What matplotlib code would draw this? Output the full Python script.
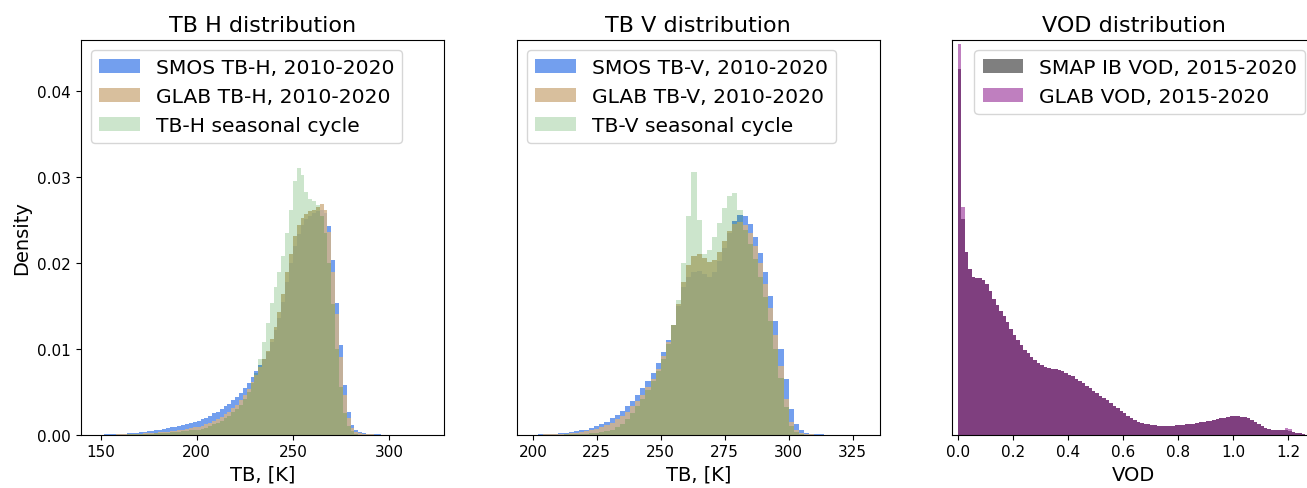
import numpy as np
import matplotlib
matplotlib.use("Agg")
from matplotlib import pyplot

# ---- TB H (bins of 2 K, 150-300 K) ----
tbh_edges = np.arange(150, 301, 2)
smos_tbh = [0.00002, 0.00003, 0.00004, 0.00005, 0.00007, 0.00009, 0.00012, 0.00015, 0.00018, 0.00022,
            0.00027, 0.00032, 0.00038, 0.00045, 0.00052, 0.00060, 0.00068, 0.00077, 0.00086, 0.00095,
            0.00105, 0.00115, 0.00125, 0.00137, 0.00150, 0.0016, 0.0018, 0.0020, 0.0022, 0.0025,
            0.0027, 0.0030, 0.0033, 0.0036, 0.0040, 0.0044, 0.0049, 0.0054, 0.0060, 0.0067,
            0.0074, 0.0081, 0.0088, 0.0096, 0.0108, 0.0122, 0.0136, 0.0155, 0.0178, 0.0200,
            0.0220, 0.0234, 0.0244, 0.0251, 0.0255, 0.0258, 0.0260, 0.0262, 0.0258, 0.0243,
            0.0203, 0.0153, 0.0104, 0.0058, 0.0027, 0.0011, 0.0005, 0.0003, 0.0002, 0.00012,
            0.00008, 0.00005, 0.00003, 0.00002, 0.00001]
glab_tbh = [0.00001, 0.00001, 0.00002, 0.00002, 0.00003, 0.00004, 0.00005, 0.00006, 0.00008, 0.00010,
            0.00012, 0.00014, 0.00017, 0.00020, 0.00023, 0.00027, 0.00031, 0.00036, 0.00041, 0.00047,
            0.00053, 0.00060, 0.00068, 0.00077, 0.00086, 0.0009, 0.0010, 0.0012, 0.0014, 0.0016,
            0.0018, 0.0021, 0.0024, 0.0027, 0.0031, 0.0035, 0.0040, 0.0046, 0.0053, 0.0061,
            0.0070, 0.0079, 0.0088, 0.0098, 0.0111, 0.0126, 0.0143, 0.0164, 0.0189, 0.0211,
            0.0231, 0.0244, 0.0252, 0.0257, 0.0260, 0.0262, 0.0265, 0.0269, 0.0262, 0.0236,
            0.0190, 0.0140, 0.0090, 0.0046, 0.0020, 0.0008, 0.0003, 0.00015, 0.0001, 0.00006,
            0.00004, 0.00002, 0.00001, 0.00001, 0.0]
seas_tbh = [0.0, 0.0, 0.0, 0.0, 0.00001, 0.00001, 0.00002, 0.00003, 0.00004, 0.00005,
            0.00006, 0.00008, 0.00010, 0.00012, 0.00014, 0.00016, 0.00019, 0.00022, 0.00026, 0.00030,
            0.00034, 0.00038, 0.00043, 0.00049, 0.00055, 0.0006, 0.0007, 0.0008, 0.0010, 0.0012,
            0.0014, 0.0016, 0.0019, 0.0022, 0.0026, 0.0030, 0.0035, 0.0042, 0.0050, 0.0060,
            0.0072, 0.0088, 0.0108, 0.0130, 0.0153, 0.0172, 0.0190, 0.0208, 0.0235, 0.0262,
            0.0295, 0.0311, 0.0302, 0.0283, 0.0275, 0.0272, 0.0267, 0.0255, 0.0235, 0.0200,
            0.0152, 0.0100, 0.0055, 0.0025, 0.0010, 0.0004, 0.0001, 0.0, 0.0, 0.0,
            0.0, 0.0, 0.0, 0.0, 0.0]

# ---- TB V (bins of 2 K, 200-320 K) ----
tbv_edges = np.arange(200, 321, 2)
smos_tbv = [0.00002, 0.00003, 0.00004, 0.00006, 0.0001, 0.00015, 0.0002, 0.0003, 0.0004, 0.0005,
            0.0006, 0.0008, 0.0010, 0.0012, 0.0015, 0.0019, 0.0023, 0.0028, 0.0033, 0.0039,
            0.0046, 0.0054, 0.0063, 0.0072, 0.0083, 0.0096, 0.0110, 0.0128, 0.0150, 0.0172,
            0.0184, 0.0190, 0.0191, 0.0187, 0.0184, 0.0190, 0.0202, 0.0218, 0.0235, 0.0249,
            0.0256, 0.0255, 0.0245, 0.0230, 0.0212, 0.0190, 0.0162, 0.0132, 0.0100, 0.0065,
            0.0030, 0.0012, 0.0005, 0.0002, 0.0001, 0.00005, 0.00003, 0.00002, 0.00001, 0.00001]
glab_tbv = [0.00001, 0.00002, 0.00003, 0.00004, 0.00006, 0.0001, 0.00013, 0.0002, 0.00025, 0.0003,
            0.0004, 0.0005, 0.0007, 0.0009, 0.0011, 0.0014, 0.0018, 0.0022, 0.0027, 0.0033,
            0.0039, 0.0046, 0.0055, 0.0065, 0.0077, 0.0092, 0.0108, 0.0128, 0.0152, 0.0178,
            0.0198, 0.0208, 0.0210, 0.0206, 0.0201, 0.0204, 0.0213, 0.0225, 0.0237, 0.0245,
            0.0248, 0.0244, 0.0235, 0.0220, 0.0200, 0.0176, 0.0148, 0.0116, 0.0080, 0.0042,
            0.0015, 0.0005, 0.0002, 0.0001, 0.00005, 0.0, 0.0, 0.0, 0.0, 0.0]
seas_tbv = [0.0, 0.0, 0.0, 0.0, 0.00001, 0.00002, 0.00003, 0.00005, 0.00007, 0.0001,
            0.00013, 0.00017, 0.00022, 0.0003, 0.0004, 0.0006, 0.0009, 0.0013, 0.0018, 0.0025,
            0.0033, 0.0042, 0.0052, 0.0063, 0.0074, 0.0088, 0.0106, 0.0128, 0.0157, 0.0200,
            0.0255, 0.0306, 0.0250, 0.0210, 0.0215, 0.0230, 0.0247, 0.0264, 0.0278, 0.0282,
            0.0262, 0.0238, 0.0222, 0.0205, 0.0184, 0.0160, 0.0132, 0.0100, 0.0066, 0.0032,
            0.0010, 0.0003, 0.0001, 0.0, 0.0, 0.0, 0.0, 0.0, 0.0, 0.0]

# ---- VOD (bins of 0.0125) ----
vod_edges = np.linspace(0, 1.2625, 102)
smap_vod = [0.0426, 0.0251, 0.0213, 0.0193, 0.0184, 0.0183, 0.0182, 0.0180, 0.0175, 0.0167,
            0.0158, 0.0151, 0.0144, 0.0138, 0.0131, 0.0123, 0.0116, 0.0110, 0.0104, 0.0099,
            0.0095, 0.0091, 0.0087, 0.0084, 0.0081, 0.0079, 0.0078, 0.0077, 0.0076, 0.0075,
            0.0074, 0.0072, 0.0070, 0.0068, 0.0065, 0.0062, 0.0060, 0.0057, 0.0054, 0.0051,
            0.0048, 0.0045, 0.0043, 0.0040, 0.0037, 0.0034, 0.0031, 0.0028, 0.0025, 0.0022,
            0.0019, 0.0017, 0.0015, 0.0014, 0.0013, 0.0012, 0.0011, 0.0011, 0.0010, 0.0010,
            0.0010, 0.0010, 0.0010, 0.0011, 0.0011, 0.0011, 0.0012, 0.0012, 0.0013, 0.0014,
            0.0015, 0.0015, 0.0016, 0.0016, 0.0017, 0.0018, 0.0019, 0.0020, 0.0021, 0.0022,
            0.0022, 0.0022, 0.0021, 0.0021, 0.0019, 0.0017, 0.0015, 0.0012, 0.0010, 0.0008,
            0.0007, 0.0006, 0.0006, 0.0005, 0.0005, 0.0005, 0.0004, 0.0003, 0.0002, 0.0002,
            0.0001]
glab_vod = [0.0455, 0.0265, 0.0213, 0.0193, 0.0184, 0.0183, 0.0182, 0.0180, 0.0175, 0.0167,
            0.0158, 0.0151, 0.0144, 0.0138, 0.0131, 0.0123, 0.0116, 0.0110, 0.0104, 0.0099,
            0.0095, 0.0091, 0.0087, 0.0084, 0.0081, 0.0079, 0.0078, 0.0077, 0.0076, 0.0075,
            0.0074, 0.0072, 0.0070, 0.0068, 0.0065, 0.0062, 0.0060, 0.0057, 0.0054, 0.0051,
            0.0048, 0.0045, 0.0043, 0.0040, 0.0037, 0.0034, 0.0031, 0.0028, 0.0025, 0.0022,
            0.0019, 0.0017, 0.0015, 0.0014, 0.0013, 0.0012, 0.0011, 0.0011, 0.0010, 0.0010,
            0.0010, 0.0010, 0.0010, 0.0011, 0.0011, 0.0011, 0.0012, 0.0012, 0.0013, 0.0014,
            0.0015, 0.0015, 0.0016, 0.0016, 0.0017, 0.0018, 0.0019, 0.0020, 0.0021, 0.0022,
            0.0022, 0.0022, 0.0021, 0.0021, 0.0019, 0.0017, 0.0015, 0.0012, 0.0010, 0.0008,
            0.0007, 0.0006, 0.0006, 0.0005, 0.0005, 0.0008, 0.0007, 0.0003, 0.0002, 0.0002,
            0.0001]

pyplot.rcParams["xtick.labelsize"] = 11
pyplot.rcParams["ytick.labelsize"] = 11

W, H = 1307, 489
fig = pyplot.figure(figsize=(W / 100, H / 100), dpi=100)

def px_axes(left, right, top=40.7, bottom=435.7, **kw):
    return fig.add_axes([left / W, 1 - bottom / H, (right - left) / W, (bottom - top) / H], **kw)

ax1 = px_axes(80.7, 444)
ax2 = px_axes(516.7, 880, sharey=ax1)
ax3 = px_axes(952.3, 1315.6, sharey=ax1)

# TB H
ax1.stairs(smos_tbh, tbh_edges, fill=True, color="cornflowerblue", alpha=0.9, label="SMOS TB-H, 2010-2020")
ax1.stairs(glab_tbh, tbh_edges, fill=True, color="tan", alpha=0.85, label="GLAB TB-H, 2010-2020")
ax1.stairs(seas_tbh, tbh_edges, fill=True, color="green", alpha=0.2, label="TB-H seasonal cycle")
ax1.set_xlim(139.7, 328.6)
ax1.set_xticks([150, 200, 250, 300])
ax1.set_title("TB H distribution", fontsize=16)
ax1.set_xlabel("TB, [K]", fontsize=14)
ax1.set_ylabel("Density", fontsize=14)
ax1.legend(loc="upper left", fontsize=14.6)

# TB V
ax2.stairs(smos_tbv, tbv_edges, fill=True, color="cornflowerblue", alpha=0.9, label="SMOS TB-V, 2010-2020")
ax2.stairs(glab_tbv, tbv_edges, fill=True, color="tan", alpha=0.85, label="GLAB TB-V, 2010-2020")
ax2.stairs(seas_tbv, tbv_edges, fill=True, color="green", alpha=0.2, label="TB-V seasonal cycle")
ax2.set_xlim(193.7, 335.7)
ax2.set_xticks([200, 225, 250, 275, 300, 325])
ax2.set_title("TB V distribution", fontsize=16)
ax2.set_xlabel("TB, [K]", fontsize=14)
ax2.legend(loc="upper left", fontsize=14.6)

# VOD
ax3.stairs(smap_vod, vod_edges, fill=True, color="black", alpha=0.5, label="SMAP IB VOD, 2015-2020")
ax3.stairs(glab_vod, vod_edges, fill=True, color="purple", alpha=0.5, label="GLAB VOD, 2015-2020")
ax3.set_xlim(-0.02, 1.3)
ax3.set_xticks([0.0, 0.2, 0.4, 0.6, 0.8, 1.0, 1.2])
ax3.set_title("VOD distribution", fontsize=16)
ax3.set_xlabel("VOD", fontsize=14)
ax3.legend(loc="upper right", fontsize=14.6)

ax1.set_ylim(0, 0.0460)
ax1.set_yticks([0.00, 0.01, 0.02, 0.03, 0.04])
for ax in (ax2, ax3):
    ax.tick_params(axis="y", left=False, labelleft=False)

pyplot.savefig("out.png", dpi=100)
